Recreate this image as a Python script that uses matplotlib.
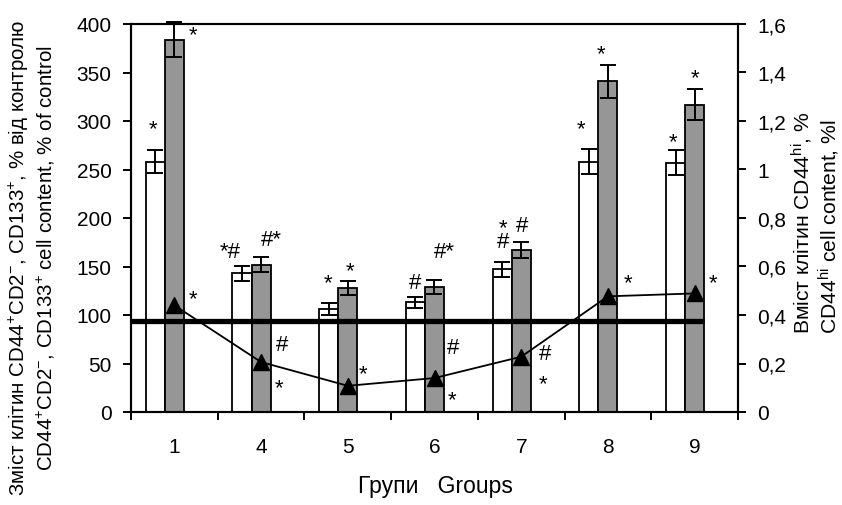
import numpy as np
import matplotlib
matplotlib.use("Agg")
import matplotlib.pyplot as plt
from matplotlib.ticker import FixedLocator, FuncFormatter

plt.rcParams['font.family'] = ['Liberation Sans', 'DejaVu Sans']
plt.rcParams['mathtext.fontset'] = 'custom'
plt.rcParams['mathtext.rm'] = 'Liberation Sans'
plt.rcParams['mathtext.it'] = 'Liberation Sans:italic'
plt.rcParams['mathtext.bf'] = 'Liberation Sans:bold'

# дані
groups = ['1', '4', '5', '6', '7', '8', '9']
white_vals = [258, 143, 106, 113, 147, 258, 257]
white_err = [12, 8, 6, 6, 8, 13, 13]
gray_vals = [384, 152, 128, 129, 167, 341, 317]
gray_err = [18, 8, 7, 7, 8, 17, 16]
cd44hi = [0.44, 0.206, 0.108, 0.14, 0.228, 0.477, 0.489]
control_level = 94

# позначки достовірності (x, y в одиницях лівої осі, текст)
marks = [
    (-0.25, 292, "*"), (0.21, 389, "*"), (0.215, 117, "*"),
    (0.64, 165, "*#"), (1.115, 178, "#*"), (1.24, 70, "#"), (1.21, 25, "*"),
    (1.77, 133, "*"), (2.03, 146, "*"), (2.17, 40, "*"),
    (2.78, 134, "#"), (3.11, 165, "#*"), (3.21, 66, "#"), (3.20, 13, "*"),
    (3.79, 183, "*\n#"), (4.01, 192, "#"), (4.28, 60, "#"), (4.25, 29, "*"),
    (4.69, 292, "*"), (4.92, 369, "*"), (5.23, 133, "*"),
    (5.75, 279, "*"), (6.0, 345, "*"), (6.21, 133, "*"),
]

fig = plt.figure(figsize=(8.42, 5.06), dpi=100)
ax = fig.add_axes([131 / 842, 1 - 413 / 506, (738 - 131) / 842, (413 - 25) / 506])

x = np.arange(len(groups))
w = 0.22
ekw = dict(elinewidth=1.4, capthick=1.4, ecolor='black', clip_on=False)
ax.bar(x - w, white_vals, w, color='white', edgecolor='black', linewidth=1.3,
       yerr=white_err, capsize=6, error_kw=ekw, zorder=2)
ax.bar(x, gray_vals, w, color='#969696', edgecolor='black', linewidth=1.3,
       yerr=gray_err, capsize=6, error_kw=ekw, zorder=2)
ax.hlines(control_level, -0.5, x[-1] + w / 2, color='black', linewidth=3.8, zorder=3)

for mx, my, t in marks:
    ax.text(mx, my, t, ha='center', va='center', fontsize=16, linespacing=0.6, zorder=5)

ax.set_xlim(-0.5, len(groups) - 0.5)
ax.set_ylim(0, 400)
ax.set_yticks(np.arange(0, 401, 50))
ax.xaxis.set_major_locator(FixedLocator(np.arange(-0.5, len(groups), 1)))
ax.xaxis.set_major_formatter(FuncFormatter(lambda v, p: ''))
ax.xaxis.set_minor_locator(FixedLocator(x))
ax.set_xticklabels(groups, minor=True)
ax.tick_params(axis='x', which='major', direction='out', length=6, width=1.4)
ax.tick_params(axis='x', which='minor', length=0, pad=18, labelsize=15)
ax.tick_params(axis='y', direction='out', length=6, width=1.4, pad=8, labelsize=15)
for s in ax.spines.values():
    s.set_linewidth(1.5)

ax2 = ax.twinx()
ax2.plot(x, cd44hi, '-^', color='black', markersize=12, linewidth=1.3, zorder=6)
ax2.set_ylim(0, 1.6)
ax2.set_yticks(np.arange(0, 1.61, 0.2))
ax2.yaxis.set_major_formatter(FuncFormatter(lambda v, p: f"{v:g}".replace('.', ',')))
ax2.tick_params(axis='y', direction='out', length=6, width=1.4, pad=8, labelsize=15)
for s in ax2.spines.values():
    s.set_linewidth(1.5)

fig.text(0.038, 0.49,
         "Зміст клітин CD44$^{+}$CD2$^{-}$, CD133$^{+}$, % від контролю\n"
         "CD44$^{+}$CD2$^{-}$, CD133$^{+}$ cell content, % of control",
         rotation=90, ha='center', va='center', multialignment='center',
         fontsize=14.8, linespacing=1.22)
fig.text(816 / 842, 0.559,
         "Вміст клітин CD44$^{\\rm hi}$, %\nCD44$^{\\rm hi}$ cell content, %l",
         rotation=90, ha='center', va='center', multialignment='left',
         fontsize=15.2, linespacing=1.05)
fig.text(435 / 842, 1 - 487 / 506, "Групи   Groups", ha='center', va='center', fontsize=16.5)

fig.savefig("out.png", dpi=100)
